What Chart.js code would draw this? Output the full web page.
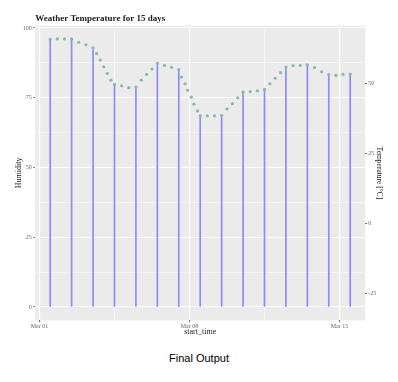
<!DOCTYPE html>
<html><head><meta charset="utf-8">
<script src="https://cdn.jsdelivr.net/npm/chart.js@4.4.1/dist/chart.umd.min.js"></script>
<style>
html,body{margin:0;padding:0;background:#fff;width:398px;height:382px;overflow:hidden;}
#wrap{position:absolute;left:0;top:0;width:398px;height:345px;}
#cap{position:absolute;left:0;width:398px;top:352px;line-height:13px;text-align:center;font-family:"Liberation Sans",Arial,sans-serif;font-size:11px;color:#000;}
</style></head><body>
<div id="wrap"><canvas id="c" width="398" height="345"></canvas></div>
<div id="cap">Final Output</div>
<script>
// ---- data ----
const chartTitle = 'Weather Temperature for 15 days';
const xTitle = 'start_time';
const yLeftTitle = 'Humidity';
const yRightTitle = 'Temperature [°C]';

const humidityTimes = ['03-01 12:00','03-02 12:00','03-03 12:00','03-04 12:00','03-05 12:00',
  '03-06 12:00','03-07 12:00','03-08 12:00','03-09 12:00','03-10 12:00',
  '03-11 12:00','03-12 12:00','03-13 12:00','03-14 12:00','03-15 12:00'];
const humidity = [95.9,96.1,92.9,79.8,78.8,87.4,85.1,68.5,68.7,77.0,78.0,86.0,86.8,83.3,83.5];

const tempTimes = ['03-01 12:00','03-01 20:00','03-02 04:00','03-02 12:00','03-02 20:00','03-03 04:00',
  '03-03 12:00','03-03 16:00','03-03 20:00','03-04 00:00','03-04 04:00','03-04 08:00','03-04 12:00',
  '03-04 20:00','03-05 04:00','03-05 12:00','03-05 18:00','03-06 00:00','03-06 06:00','03-06 12:00',
  '03-06 20:00','03-07 04:00','03-07 12:00','03-07 15:00','03-07 19:00','03-07 22:00','03-08 02:00',
  '03-08 05:00','03-08 09:00','03-08 12:00','03-08 20:00','03-09 04:00','03-09 12:00','03-09 18:00',
  '03-10 00:00','03-10 06:00','03-10 12:00','03-10 20:00','03-11 04:00','03-11 12:00','03-11 18:00',
  '03-12 00:00','03-12 06:00','03-12 12:00','03-12 20:00','03-13 04:00','03-13 12:00','03-13 20:00',
  '03-14 04:00','03-14 12:00','03-14 20:00','03-15 04:00','03-15 12:00'];
const temperature = [65.9,66.1,66.1,66.1,64.9,64.0,
  62.9,60.8,58.5,56.1,53.7,51.3,49.8,
  49.3,48.6,48.8,51.3,53.4,55.3,57.4,
  56.6,55.9,55.1,52.4,50.0,47.7,45.2,
  42.7,40.3,38.5,38.5,38.5,38.7,41.0,
  42.9,45.0,47.0,47.2,47.5,48.0,50.0,
  52.0,54.0,56.0,56.5,56.6,56.8,55.8,
  54.3,53.3,53.0,53.4,53.5];

const xTickTimes = ['03-01 00:00','03-08 00:00','03-15 00:00'];
const xTickLabels = ['Mar 01','Mar 08','Mar 15'];
const yLeftTicks = [0,25,50,75,100];
const yRightTicks = [-25,0,25,50];
const secOffset = 30; // Temperature = Humidity-scale value - 30

// ---- helpers ----
function toHours(s){ // 'MM-DD HH:MM' -> hours since Mar 01 00:00
  const d = parseInt(s.slice(3,5),10), h = parseInt(s.slice(6,8),10), m = parseInt(s.slice(9,11),10);
  return (d-1)*24 + h + m/60;
}
const hx = humidityTimes.map(toHours);
const tx = tempTimes.map(toHours);
const xMajor = xTickTimes.map(toHours);
const xMinor = []; for(let i=0;i<xMajor.length-1;i++) xMinor.push((xMajor[i]+xMajor[i+1])/2);

const allX = hx.concat(tx);
const xmin0 = Math.min(...allX), xmax0 = Math.max(...allX);
const xpad = (xmax0-xmin0)*0.05;
const yvals = humidity.concat(temperature.map(v=>v+secOffset)).concat([0]);
const ymin0 = Math.min(...yvals), ymax0 = Math.max(...yvals);
const ypad = (ymax0-ymin0)*0.05;
const yMin = ymin0-ypad, yMax = ymax0+ypad;

const yLeftAll = []; for(let v=yLeftTicks[0]; v<=yLeftTicks[yLeftTicks.length-1]+0.01; v+=12.5) yLeftAll.push(v);

const serif = '"Liberation Serif","Times New Roman",serif';
const tickCol = '#7a7a7a';

const panelBg = {
  id:'panelBg',
  beforeDraw(chart){
    const a = chart.chartArea, ctx = chart.ctx;
    ctx.save(); ctx.fillStyle = '#EBEBEB';
    ctx.fillRect(a.left, a.top, a.right-a.left, a.bottom-a.top);
    ctx.restore();
  }
};

new Chart(document.getElementById('c'), {
  type:'bar',
  data:{
    datasets:[
      {
        type:'scatter', label:'Temperature', yAxisID:'y2', order:0,
        data: tx.map((x,i)=>({x:x, y:temperature[i]})),
        pointRadius:1.6, pointBorderWidth:0, pointBackgroundColor:'#86bba4', pointHoverRadius:1.6
      },
      {
        type:'bar', label:'Humidity', yAxisID:'y', order:1,
        data: hx.map((x,i)=>({x:x, y:humidity[i]})),
        backgroundColor:'#8a8aff', borderWidth:0, barThickness:1, grouped:false
      }
    ]
  },
  options:{
    responsive:false, animation:false, devicePixelRatio:1,
    layout:{padding:0},
    plugins:{
      legend:{display:false}, tooltip:{enabled:false},
      title:{display:true, text:chartTitle, align:'start', fullSize:false, color:'#222',
        font:{family:serif, size:9, weight:'bold'}, padding:{top:13.4,bottom:1.3}}
    },
    scales:{
      x:{
        type:'linear', min:xmin0-xpad, max:xmax0+xpad, offset:false,
        afterBuildTicks(s){ s.ticks = xMajor.concat(xMinor).sort((a,b)=>a-b).map(v=>({value:v})); },
        afterFit(s){ s.height = 24.6; },
        ticks:{autoSkip:false, maxRotation:0, padding:0.6, color:'#666',
          font:{family:serif,size:6},
          callback(v){ const i = xMajor.indexOf(v); return i>=0 ? xTickLabels[i] : ''; }},
        grid:{offset:false, color:'#ffffff', tickLength:1.8,
          lineWidth(c){ return (c.tick && xMajor.indexOf(c.tick.value)>=0) ? 1.1 : 0.55; },
          tickColor(c){ return (c.tick && xMajor.indexOf(c.tick.value)>=0) ? tickCol : 'rgba(0,0,0,0)'; }},
        border:{display:false},
        title:{display:true, text:xTitle, color:'#222', font:{family:serif,size:8}, padding:{top:0,bottom:8}}
      },
      y:{
        type:'linear', position:'left', min:yMin, max:yMax,
        afterBuildTicks(s){ s.ticks = yLeftAll.map(v=>({value:v})); },
        afterFit(s){ s.width = 35.2; },
        ticks:{autoSkip:false, padding:1.5, color:'#666', font:{family:serif,size:6},
          callback(v){ return yLeftTicks.indexOf(v)>=0 ? String(v) : ''; }},
        grid:{color:'#ffffff', tickLength:2,
          lineWidth(c){ return (c.tick && yLeftTicks.indexOf(c.tick.value)>=0) ? 1.1 : 0.55; },
          tickColor(c){ return (c.tick && yLeftTicks.indexOf(c.tick.value)>=0) ? tickCol : 'rgba(0,0,0,0)'; }},
        border:{display:false},
        title:{display:true, text:yLeftTitle, color:'#222', font:{family:serif,size:8}, padding:{top:13.9,bottom:0}}
      },
      y2:{
        type:'linear', position:'right', min:yMin-secOffset, max:yMax-secOffset,
        afterBuildTicks(s){ s.ticks = yRightTicks.map(v=>({value:v})); },
        afterFit(s){ s.width = 32.8; },
        ticks:{autoSkip:false, padding:1, color:'#666', font:{family:serif,size:6}},
        grid:{drawOnChartArea:false, tickLength:2, tickColor:tickCol},
        border:{display:false},
        title:{display:true, text:yRightTitle, color:'#222', font:{family:serif,size:7.5}, padding:{top:14.2,bottom:0}}
      }
    }
  },
  plugins:[panelBg]
});
</script>
</body></html>
